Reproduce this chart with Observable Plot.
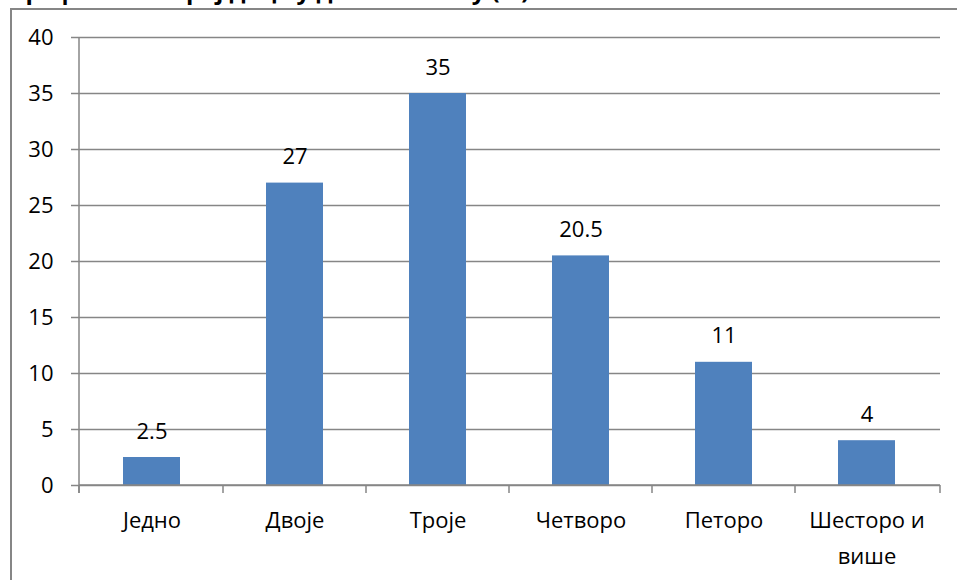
<!DOCTYPE html>
<html>
<head>
<meta charset="utf-8">
<script src="https://cdn.jsdelivr.net/npm/d3@7"></script>
<script src="https://cdn.jsdelivr.net/npm/@observablehq/plot@0.6"></script>
<style>
  html, body { margin: 0; padding: 0; background: #fff; }
  #wrap { position: relative; width: 957px; height: 580px; overflow: hidden; font-family: "Open Sans", "Noto Sans", sans-serif; }
  #title { position: absolute; left: 12px; top: -22px; font-size: 24px; line-height: 1; font-weight: bold; white-space: nowrap; color: #000; }
  #frame { position: absolute; left: 10px; top: 8px; width: 960px; height: 600px; border-left: 2px solid #868686; border-top: 2px solid #868686; }
  #chart { position: absolute; left: 0; top: 0; }
</style>
</head>
<body>
<div id="wrap">
  <div id="title">Графикон 1: Број деце у домаћинству (%)</div>
  <div id="frame"></div>
  <div id="chart"></div>
</div>
<script>
const categories = ["Једно", "Двоје", "Троје", "Четворо", "Петоро", "Шесторо и\nвише"];
const values = [2.5, 27, 35, 20.5, 11, 4];
const valueLabels = ["2.5", "27", "35", "20.5", "11", "4"];
const yTicks = [0, 5, 10, 15, 20, 25, 30, 35, 40];

const data = categories.map((c, i) => ({category: c, value: values[i], label: valueLabels[i]}));

const axisColor = "#868686";
const barColor = "#4F81BD";
const font = "'Open Sans', 'Noto Sans', sans-serif";

// x-axis line and category boundary ticks, derived from the band scale
function categoryAxis(index, scales, values, dimensions) {
  const x = scales.x, y = scales.y;
  const bw = typeof x.bandwidth === "function" ? x.bandwidth() : 0;
  const centers = categories.map(c => x(c) + bw / 2);
  const left = dimensions.marginLeft;
  const right = dimensions.width - dimensions.marginRight;
  const bounds = [left];
  for (let i = 1; i < centers.length; i++) bounds.push((centers[i - 1] + centers[i]) / 2);
  bounds.push(right);
  const y0 = y(0);
  const top = y(yTicks[yTicks.length - 1]);
  const g = d3.create("svg:g").attr("stroke", axisColor).attr("stroke-width", 1.5).attr("fill", "none");
  g.append("line").attr("x1", left).attr("x2", right).attr("y1", y0).attr("y2", y0);
  g.append("line").attr("x1", left).attr("x2", left).attr("y1", top).attr("y2", y0 + 8);
  for (const b of bounds) {
    g.append("line").attr("x1", b).attr("x2", b).attr("y1", y0).attr("y2", y0 + 8);
  }
  return g.node();
}

const chart = Plot.plot({
  width: 957,
  height: 580,
  marginLeft: 79,
  marginRight: 17,
  marginTop: 37,
  marginBottom: 95,
  style: {fontFamily: font, fontSize: "22px", color: "#000", background: "transparent"},
  x: {domain: categories, paddingInner: 0.6, paddingOuter: 0.3, label: null},
  y: {domain: [0, 40], label: null},
  marks: [
    Plot.gridY(yTicks, {stroke: axisColor, strokeOpacity: 1, strokeWidth: 1.5}),
    Plot.barY(data, {x: "category", y: "value", fill: barColor}),
    categoryAxis,
    Plot.text(data, {x: "category", y: "value", text: "label", dy: -26, fontSize: 22, fill: "#000"}),
    Plot.axisY({ticks: yTicks, tickSize: 8, tickPadding: 18, stroke: axisColor, strokeWidth: 1.5, fontSize: 22, fill: "#000", label: null}),
    Plot.axisX({tickSize: 0, tickPadding: 18, fontSize: 22, lineHeight: 1.6, lineAnchor: "top", fill: "#000", label: null})
  ]
});
document.getElementById("chart").appendChild(chart);
</script>
</body>
</html>
